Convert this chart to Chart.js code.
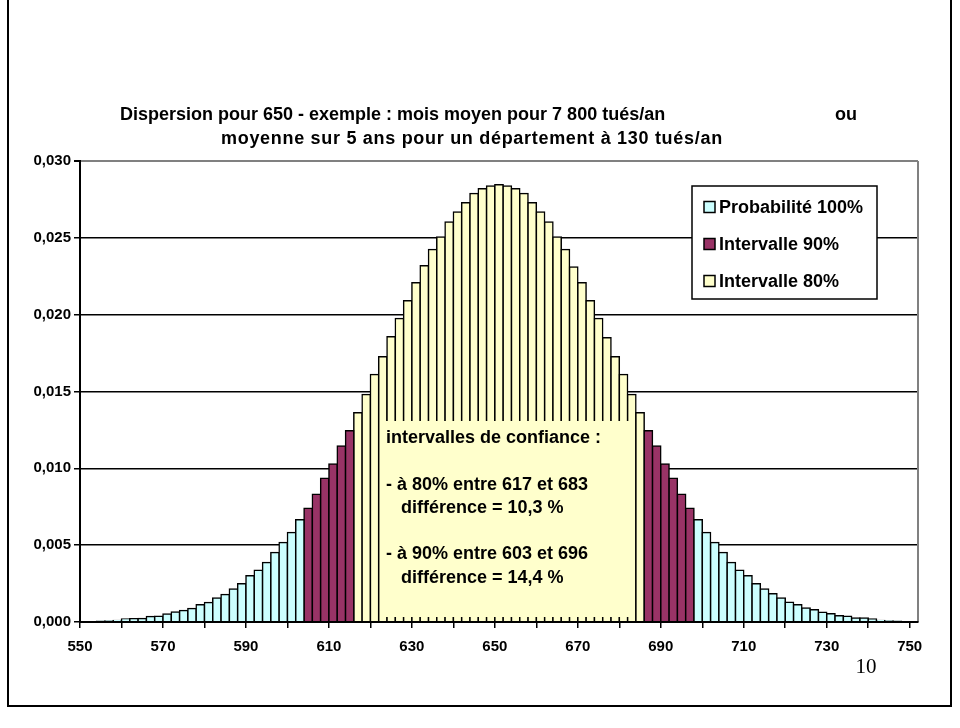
<!DOCTYPE html>
<html>
<head>
<meta charset="utf-8">
<script src="https://cdn.jsdelivr.net/npm/chart.js@4.4.1/dist/chart.umd.min.js"></script>
<style>
  html, body { margin: 0; padding: 0; background: #fff; }
  #chart { display: block; }
</style>
</head>
<body>
<canvas id="chart" width="960" height="728"></canvas>
<script>
// classes de 2 tués : 550, 552, ... 750
const bins = [
  550, 552, 554, 556, 558, 560, 562, 564, 566, 568,
  570, 572, 574, 576, 578, 580, 582, 584, 586, 588,
  590, 592, 594, 596, 598, 600, 602, 604, 606, 608,
  610, 612, 614, 616, 618, 620, 622, 624, 626, 628,
  630, 632, 634, 636, 638, 640, 642, 644, 646, 648,
  650, 652, 654, 656, 658, 660, 662, 664, 666, 668,
  670, 672, 674, 676, 678, 680, 682, 684, 686, 688,
  690, 692, 694, 696, 698, 700, 702, 704, 706, 708,
  710, 712, 714, 716, 718, 720, 722, 724, 726, 728,
  730, 732, 734, 736, 738, 740, 742, 744, 746, 748,
  750
];

// probabilité, une valeur par classe
const probabilite = [
  0.00002, 0.00003, 0.00005, 0.00007, 0.0001,
  0.0002, 0.00021, 0.00022, 0.00036, 0.00038,
  0.00052, 0.00065, 0.00075, 0.00088, 0.00112,
  0.00127, 0.00156, 0.00179, 0.00214, 0.00249,
  0.00301, 0.00336, 0.00388, 0.00453, 0.00518,
  0.00583, 0.00665, 0.00741, 0.00832, 0.00936,
  0.01029, 0.01146, 0.01245, 0.01362, 0.01481,
  0.01611, 0.01726, 0.01856, 0.01975, 0.0209,
  0.02207, 0.02318, 0.02424, 0.02506, 0.02603,
  0.02668, 0.02729, 0.02788, 0.0282, 0.02837,
  0.02846, 0.02837, 0.0282, 0.02788, 0.02729,
  0.02668, 0.02603, 0.02506, 0.02424, 0.02311,
  0.02207, 0.0209, 0.01975, 0.0185, 0.01726,
  0.01611, 0.01481, 0.01362, 0.01245, 0.01146,
  0.01029, 0.00936, 0.00832, 0.00741, 0.00665,
  0.00583, 0.00518, 0.00453, 0.00388, 0.00336,
  0.00301, 0.00249, 0.00214, 0.00184, 0.00156,
  0.00128, 0.00113, 0.00091, 0.0008, 0.00063,
  0.00054, 0.00041, 0.00037, 0.00026, 0.00026,
  0.00019, 0.0001, 0.00007, 0.00005, 0.00003,
  0.00002
];

const interval90 = [604, 696];
const interval80 = [616, 684];

const seriesLabels = ['Probabilité 100%', 'Intervalle 90%', 'Intervalle 80%'];
const seriesColors = ['#CCFFFF', '#993366', '#FFFFCC'];

const xLabels = [550, 570, 590, 610, 630, 650, 670, 690, 710, 730, 750];
const yTicks = [0, 0.005, 0.01, 0.015, 0.02, 0.025, 0.03];

const titleLines = [
  'Dispersion pour 650 - exemple : mois moyen pour 7 800 tués/an',
  'moyenne sur 5 ans pour un département à 130 tués/an'
];
const titleTail = 'ou';

const noteLines = [
  'intervalles de confiance :',
  '',
  '- à 80% entre 617 et 683',
  '   différence = 10,3 %',
  '',
  '- à 90% entre 603 et 696',
  '   différence = 14,4 %'
];
const pageNumber = '10';

const FONT = '"Liberation Sans", Arial, sans-serif';

// 0 = hors intervalle, 1 = intervalle 90 %, 2 = intervalle 80 %
const zoneOf = b => {
  if (b >= interval80[0] && b <= interval80[1]) return 2;
  if (b >= interval90[0] && b <= interval90[1]) return 1;
  return 0;
};

const datasets = seriesLabels.map((label, k) => ({
  label,
  data: bins.map((b, i) => ({ x: b + 1, y: zoneOf(b) === k ? probabilite[i] : null })),
  backgroundColor: seriesColors[k],
  borderColor: '#000',
  borderWidth: 1.5,
  inflateAmount: 0.75,
  barPercentage: 1,
  categoryPercentage: 1,
  grouped: false
}));

const decor = {
  id: 'decor',
  beforeDraw(chart) {
    const { ctx } = chart;
    ctx.save();
    ctx.strokeStyle = '#000';
    ctx.lineWidth = 2;
    ctx.strokeRect(8, -2, 943, 708);
    ctx.restore();
  },
  afterDatasetsDraw(chart) {
    const { ctx, chartArea, scales } = chart;
    ctx.save();

    // bord gris du cadre de tracé
    ctx.strokeStyle = '#808080';
    ctx.lineWidth = 2;
    ctx.beginPath();
    ctx.moveTo(chartArea.right, chartArea.top);
    ctx.lineTo(chartArea.right, chartArea.bottom);
    ctx.stroke();

    // zone de texte "intervalles de confiance"
    const bx0 = scales.x.getPixelForValue(622) + 1.5;
    const bx1 = scales.x.getPixelForValue(684) - 1;
    ctx.fillStyle = '#FFFFCC';
    ctx.fillRect(bx0, 421, bx1 - bx0, 196);
    ctx.fillStyle = '#000';
    ctx.font = 'bold 18px ' + FONT;
    ctx.textBaseline = 'middle';
    ctx.textAlign = 'left';
    noteLines.forEach((t, i) => ctx.fillText(t, 386, 438 + i * 23.3));

    // légende
    ctx.fillStyle = '#fff';
    ctx.fillRect(692, 186, 185, 113);
    ctx.strokeStyle = '#000';
    ctx.lineWidth = 1.5;
    ctx.strokeRect(692, 186, 185, 113);
    seriesLabels.forEach((t, i) => {
      const cy = 207 + i * 37;
      ctx.fillStyle = seriesColors[i];
      ctx.fillRect(704, cy - 5.5, 11, 11);
      ctx.strokeRect(704, cy - 5.5, 11, 11);
      ctx.fillStyle = '#000';
      ctx.fillText(t, 719, cy + 1);
    });

    // titre
    ctx.font = 'bold 18px ' + FONT;
    ctx.fillText(titleLines[0], 120, 115);
    ctx.fillText(titleTail, 835, 115);
    ctx.letterSpacing = '0.7px';
    ctx.fillText(titleLines[1], 221, 139);
    ctx.letterSpacing = '0px';

    // numéro de page
    ctx.font = '21px "Liberation Serif", "Times New Roman", serif';
    ctx.textAlign = 'center';
    ctx.fillText(pageNumber, 866, 667);
    ctx.restore();
  }
};

new Chart(document.getElementById('chart'), {
  type: 'bar',
  data: { datasets },
  options: {
    responsive: false,
    animation: false,
    devicePixelRatio: 1,
    layout: { padding: { top: 161, right: 42, bottom: 66, left: 0 } },
    plugins: {
      legend: { display: false },
      title: { display: false },
      tooltip: { enabled: false }
    },
    scales: {
      x: {
        type: 'linear',
        offset: false,
        min: 550,
        max: 752,
        afterBuildTicks: axis => {
          const t = [];
          for (let v = 550; v <= 750; v += 10) t.push({ value: v });
          axis.ticks = t;
        },
        afterFit: axis => { axis.height = 40; },
        ticks: {
          autoSkip: false,
          maxRotation: 0,
          padding: 10,
          color: '#000',
          font: { family: FONT, size: 15, weight: 'bold' },
          callback: v => (xLabels.includes(v) ? String(v) : '')
        },
        grid: { drawOnChartArea: false, offset: false, color: '#000', lineWidth: 1.5, tickLength: 6 },
        border: { color: '#000', width: 2, z: 1 }
      },
      y: {
        min: 0,
        max: 0.03,
        afterBuildTicks: axis => { axis.ticks = yTicks.map(v => ({ value: v })); },
        afterFit: axis => { axis.width = 80; },
        ticks: {
          padding: 3,
          color: '#000',
          font: { family: FONT, size: 15, weight: 'bold' },
          callback: v => v.toFixed(3).replace('.', ',')
        },
        grid: {
          color: c => (c.tick && c.tick.value >= 0.0299 ? '#808080' : '#000'),
          tickColor: '#000',
          lineWidth: c => (c.tick && c.tick.value >= 0.0299 ? 2 : 1.5),
          tickLength: 6
        },
        border: { color: '#000', width: 2, z: 1 }
      }
    }
  },
  plugins: [decor]
});
</script>
</body>
</html>
